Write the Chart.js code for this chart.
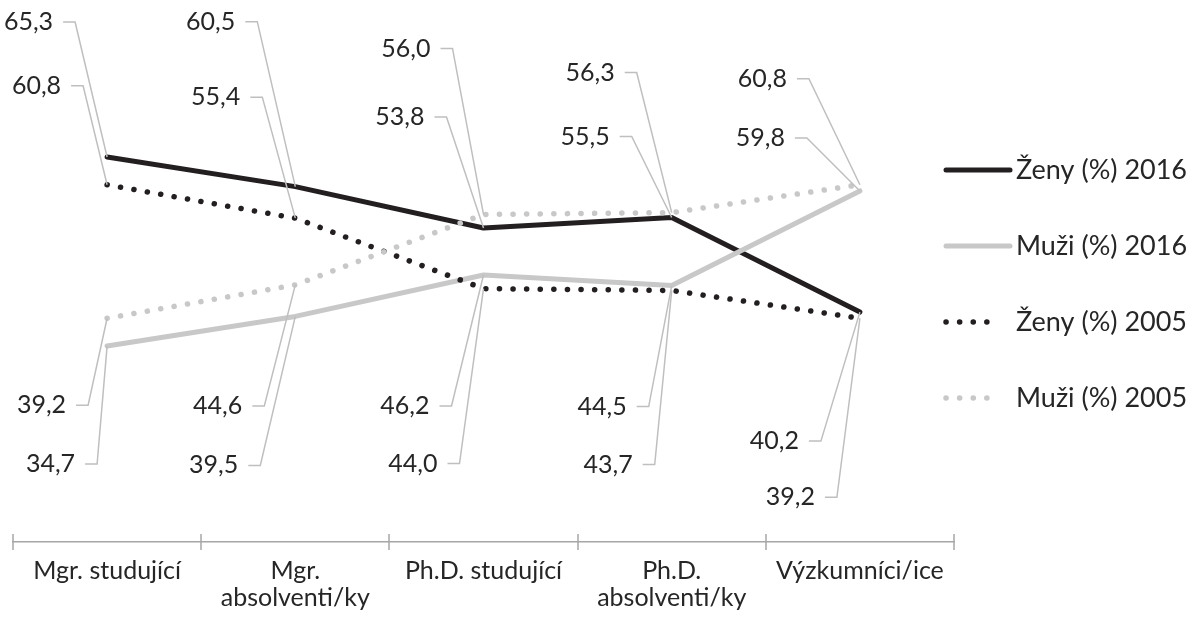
<!DOCTYPE html>
<html>
<head>
<meta charset="utf-8">
<script src="https://cdn.jsdelivr.net/npm/chart.js@4.4.1/dist/chart.umd.min.js"></script>
<style>
  html, body { margin: 0; padding: 0; background: #fff; }
  #wrap { width: 1204px; height: 639px; }
</style>
</head>
<body>
<div id="wrap"><canvas id="chart"></canvas></div>
<script>
const categories = [['Mgr. studující'], ['Mgr.', 'absolventi/ky'], ['Ph.D. studující'], ['Ph.D.', 'absolventi/ky'], ['Výzkumníci/ice']];
const seriesNames = ['Ženy (%) 2016', 'Muži (%) 2016', 'Ženy (%) 2005', 'Muži (%) 2005'];
const zeny2016 = [65.3, 60.5, 53.8, 55.5, 40.2];
const muzi2016 = [34.7, 39.5, 46.2, 44.5, 59.8];
const zeny2005 = [60.8, 55.4, 44.0, 43.7, 39.2];
const muzi2005 = [39.2, 44.6, 56.0, 56.3, 60.8];

// where each data label sits, relative to its point (end of the leader elbow)
const labelOffsets = [
    [[-32, -135], [-38, -165], [-37, -111], [-40, -81], [-39, 129]],
    [[-10, 118], [-35, 149], [-32, 131], [-23, 121], [-53, -53]],
    [[-24, -99], [-33, -121], [-24, 175], [-17, 174], [-23, 179]],
    [[-19, 87], [-31, 121], [-31, -166], [-35, -140], [-51, -106]]
];

const BLACK = '#231f20';
const GRAY = '#c8c8c8';
const TEXT = '#262626';
const FONT = 'Lato';

Chart.defaults.font.family = FONT;
Chart.defaults.color = TEXT;

function fmt(v) {
    return v.toFixed(1).replace('.', ',');
}

function lineStyle(color, dotted) {
    return {
        borderColor: color,
        backgroundColor: color,
        borderWidth: dotted ? 5.5 : 5,
        borderDash: dotted ? [0.1, 13.5] : [],
        borderCapStyle: 'round',
        borderJoinStyle: 'round'
    };
}

const styles = [
    lineStyle(BLACK, false),
    lineStyle(GRAY, false),
    lineStyle(BLACK, true),
    lineStyle(GRAY, true)
];

// tick marks crossing the axis line at category boundaries
const axisTicks = {
    id: 'axisTicks',
    afterDraw(chart) {
        const ctx = chart.ctx;
        const xs = chart.scales.x;
        const y = chart.chartArea.bottom;
        ctx.save();
        ctx.strokeStyle = '#a6a6a6';
        ctx.lineWidth = 1.5;
        for (let i = 0; i <= categories.length; i++) {
            const x = Math.round(xs.getPixelForValue(i - 0.5));
            ctx.beginPath();
            ctx.moveTo(x, y - 8);
            ctx.lineTo(x, y + 8);
            ctx.stroke();
        }
        ctx.restore();
    }
};

// data labels with Excel-like leader lines
const leaders = {
    id: 'leaders',
    afterDatasetsDraw(chart) {
        const ctx = chart.ctx;
        ctx.save();
        chart.data.datasets.forEach((ds, d) => {
            const meta = chart.getDatasetMeta(d);
            meta.data.forEach((pt, i) => {
                const off = labelOffsets[d][i];
                const ex = pt.x + off[0];
                const ey = pt.y + off[1];
                ctx.strokeStyle = '#bfbfbf';
                ctx.lineWidth = 1.5;
                ctx.beginPath();
                ctx.moveTo(ex - 12, ey);
                ctx.lineTo(ex, ey);
                ctx.lineTo(pt.x, pt.y);
                ctx.stroke();
                ctx.fillStyle = TEXT;
                ctx.font = '25px ' + FONT;
                ctx.textAlign = 'right';
                ctx.textBaseline = 'middle';
                ctx.fillText(fmt(ds.data[i]), ex - 22, ey);
            });
        });
        ctx.restore();
    }
};

// legend on the right, one item under the other
const sideLegend = {
    id: 'sideLegend',
    afterDraw(chart) {
        const ctx = chart.ctx;
        const x0 = 946;
        const x1 = 1010;
        ctx.save();
        chart.data.datasets.forEach((ds, d) => {
            const y = 170 + d * 76;
            ctx.strokeStyle = ds.borderColor;
            ctx.lineWidth = ds.borderWidth;
            ctx.lineCap = 'round';
            ctx.setLineDash(ds.borderDash);
            ctx.beginPath();
            ctx.moveTo(x0, y);
            ctx.lineTo(ds.borderDash.length ? x1 - 10 : x1, y);
            ctx.stroke();
            ctx.setLineDash([]);
            ctx.fillStyle = TEXT;
            ctx.font = '27px ' + FONT;
            ctx.textAlign = 'left';
            ctx.textBaseline = 'middle';
            ctx.fillText(ds.label, x1 + 6, y);
        });
        ctx.restore();
    }
};

const seriesData = [zeny2016, muzi2016, zeny2005, muzi2005];

new Chart(document.getElementById('chart'), {
    type: 'line',
    data: {
        labels: categories,
        datasets: seriesData.map((data, i) => Object.assign({
            label: seriesNames[i],
            data: data,
            pointRadius: 0,
            tension: 0,
            order: seriesData.length - 1 - i
        }, styles[i]))
    },
    options: {
        responsive: true,
        maintainAspectRatio: false,
        animation: false,
        layout: {
            padding: { left: 13, right: 250, top: 0, bottom: 0 }
        },
        plugins: {
            legend: { display: false },
            tooltip: { enabled: false }
        },
        scales: {
            x: {
                offset: true,
                grid: { display: false, drawTicks: false },
                border: { display: true, color: '#a6a6a6', width: 1.5 },
                ticks: {
                    color: TEXT,
                    font: { size: 25, family: FONT, lineHeight: 1.1 },
                    padding: 15,
                    maxRotation: 0,
                    autoSkip: false
                },
                afterFit(scale) {
                    scale.height = 97;
                }
            },
            y: {
                display: false,
                min: 3,
                max: 90.7
            }
        }
    },
    plugins: [axisTicks, leaders, sideLegend]
});
</script>
</body>
</html>
